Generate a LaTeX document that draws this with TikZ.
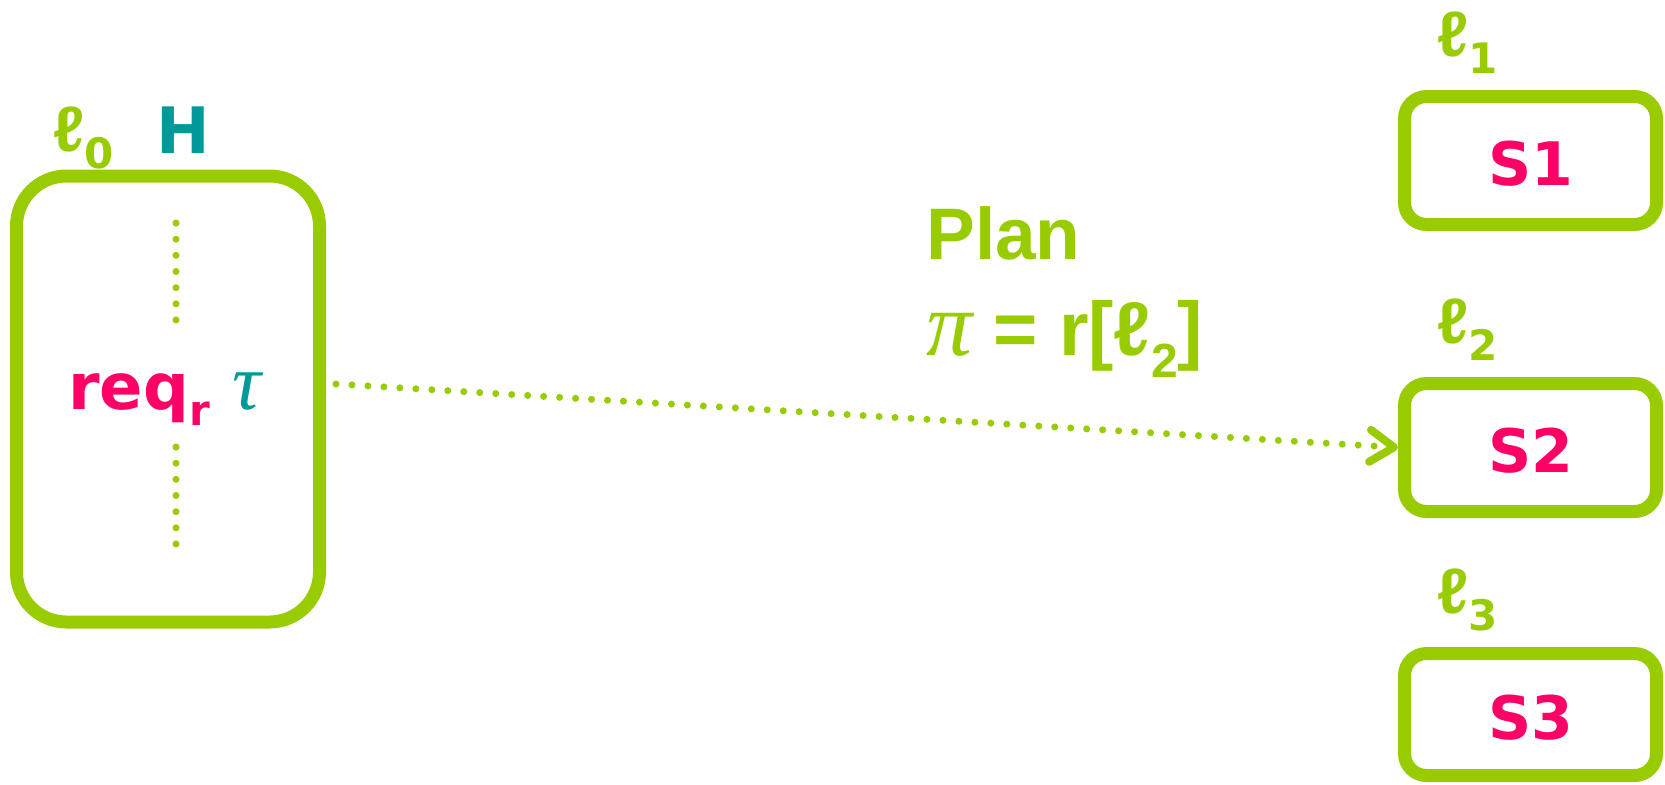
\documentclass[tikz,border=0pt]{standalone}
\usepackage{fontspec}
\setmainfont{DejaVu Sans}
\newfontfamily\plainsans{Liberation Sans}
\newfontfamily\greekserif{Liberation Serif}
\usetikzlibrary{arrows.meta,positioning}
\definecolor{planGreen}{RGB}{153,204,0}
\definecolor{reqPink}{RGB}{255,0,102}
\definecolor{hostTeal}{RGB}{0,153,153}
\newcommand{\locname}[1]{{\plainsans ℓ}\raisebox{-8.5pt}{\fontsize{21}{21}\selectfont #1}}
\tikzset{
  hostbox/.style={
    rectangle, rounded corners=25pt, draw=planGreen, line width=6.5pt,
    minimum width=151.5pt, minimum height=223pt},
  sitebox/.style={
    rectangle, rounded corners=11pt, draw=planGreen, line width=6.5pt,
    minimum width=126pt, minimum height=64pt, inner sep=0pt,
    text=reqPink, font=\fontsize{30}{30}\selectfont\bfseries,
    text height=25.4pt, text depth=0pt},
  loclabel/.style={inner sep=0pt, text=planGreen, font=\fontsize{32}{32}\selectfont\bfseries},
  plantext/.style={inner sep=0pt, text=planGreen, font=\fontsize{36.5}{36.5}\selectfont\plainsans\bfseries},
  dotline/.style={draw=planGreen, line width=3.5pt, line cap=round, dash pattern=on 0pt off 8.08pt},
  dotarrow/.style={draw=planGreen, line width=3.5pt, line cap=round, dash pattern=on 0pt off 8pt,
    -{Straight Barb[length=12pt,width=16pt,line width=4pt,round]}}
}
\begin{document}
\begin{tikzpicture}[x=0.5pt,y=-0.5pt]
  \useasboundingbox (0,0) rectangle (1665,784);

  % host side
  \node[hostbox] (host) at (168,399) {};
  \node[loclabel, above right=0pt and 21.5pt of host.north west] (l0) {\locname{0}};
  \node[loclabel, text=hostTeal, above right=8pt and 73pt of host.north west] (hostname) {H};
  \node[inner sep=0pt, anchor=base west, font=\fontsize{32}{32}\selectfont\bfseries]
    (reqtext) at ([xshift=29pt,yshift=-5pt]host.west)
    {\textcolor{reqPink}{req\raisebox{-8pt}{\fontsize{21}{21}\selectfont r}}
     \textcolor{hostTeal}{\fontsize{40}{40}\selectfont\greekserif\mdseries\itshape τ}};
  \draw[dotline] ([shift={(4pt,88pt)}]host.center) -- ([shift={(4pt,39.5pt)}]host.center);
  \draw[dotline] ([shift={(4pt,-24pt)}]host.center) -- ([shift={(4pt,-72.5pt)}]host.center);

  % sites
  \node[sitebox] (s1) at (1530.5,160.5) {S1};
  \node[sitebox, below=73pt of s1] (s2) {S2};
  \node[sitebox, minimum height=61pt, below=64.5pt of s2] (s3) {S3};
  \node[loclabel, above right=8pt and 19.5pt of s1.north west] (l1) {\locname{1}};
  \node[loclabel, above right=8pt and 19.5pt of s2.north west] (l2) {\locname{2}};
  \node[loclabel, above right=8pt and 19.5pt of s3.north west] (l3) {\locname{3}};

  % plan
  \node[plantext, anchor=base west] (plan) at (926,259) {Plan};
  \node[plantext, anchor=base west, font=\fontsize{38}{38}\selectfont\plainsans\bfseries]
    (planrule) at ([yshift=-48pt]plan.base west)
    {{\fontsize{46}{46}\selectfont\greekserif\mdseries\itshape π} = r[ℓ\raisebox{-11pt}{\fontsize{24}{24}\selectfont 2}]};

  \draw[dotarrow] ([xshift=5pt,yshift=7.5pt]host.east) -- (s2.west);
\end{tikzpicture}
\end{document}
